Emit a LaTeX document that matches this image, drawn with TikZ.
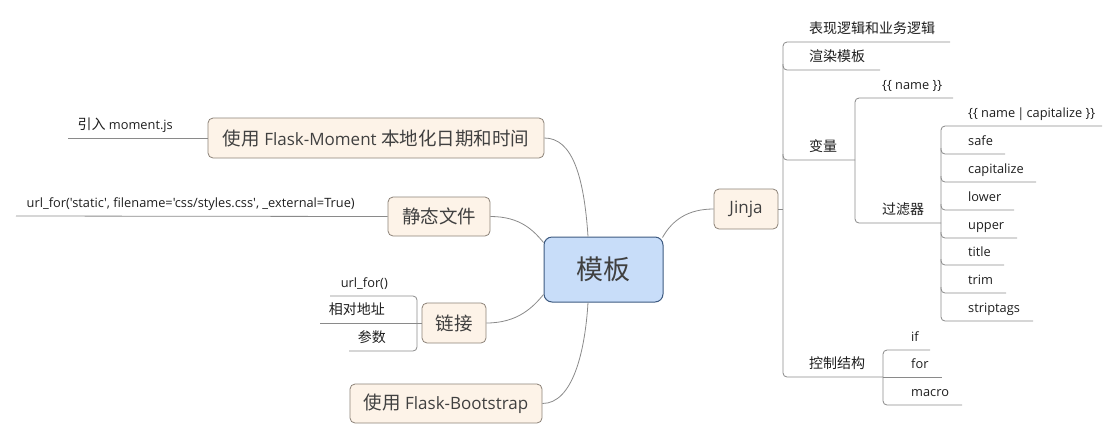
\documentclass[tikz,border=0pt]{standalone}
\usepackage{fontspec}
\setmainfont{Open Sans}[Ligatures=TeXOff]
\newfontfamily\cjkfont{Noto Sans CJK SC}
\newcommand\zhs[1]{{\cjkfont\fontsize{14}{16}\selectfont #1}}
\newcommand\zhb[1]{{\cjkfont\fontsize{18.5}{20}\selectfont #1}}
\definecolor{boxfill}{HTML}{FDF3E8}
\definecolor{boxline}{HTML}{8C8278}
\definecolor{rootfill}{HTML}{C8DDF9}
\definecolor{rootline}{HTML}{3D5A80}
\definecolor{linec}{HTML}{8A8A8A}
\definecolor{boxtxt}{HTML}{404040}
\definecolor{lbltxt}{HTML}{1E1E1E}
\begin{document}
\begin{tikzpicture}[x=1pt,y=-1pt,
  topic/.style={draw=boxline, fill=boxfill, rounded corners=5pt, line width=0.8pt, inner sep=0pt, text=boxtxt, font=\fontsize{17}{20}\selectfont},
  rootbox/.style={draw=rootline, fill=rootfill, rounded corners=8pt, line width=1pt, inner sep=0pt, text=boxtxt, font=\cjkfont\fontsize{27}{30}\selectfont},
  conn/.style={draw=linec, line width=0.8pt},
  tline/.style={draw=linec, line width=0.8pt, rounded corners=4pt},
  rl/.style={anchor=base west, inner sep=0pt, font=\fontsize{12.8}{15}\selectfont, text=lbltxt},
  ll/.style={anchor=base east, inner sep=0pt, font=\fontsize{12.8}{15}\selectfont, text=lbltxt},
]
\useasboundingbox (0,0) rectangle (1118,440);

% main nodes
\node[rootbox, minimum width=119pt, minimum height=65pt] (root) at (603.5,269.5) {模板};
\node[topic, minimum width=336pt, minimum height=40pt] (moment) at (376,138) {\zhb{使用} Flask-Moment \zhb{本地化日期和时间}};
\node[topic, minimum width=102pt, minimum height=39pt] (static) at (439,216.5) {\zhb{静态文件}};
\node[topic, minimum width=64pt, minimum height=40pt] (link) at (454,323) {\zhb{链接}};
\node[topic, minimum width=192pt, minimum height=39pt] (boot) at (446,403.5) {\zhb{使用} Flask-Bootstrap};
\node[topic, minimum width=64pt, minimum height=40pt] (jinja) at (746,209) {Jinja};

% curved connectors
\draw[conn] (moment.east) .. controls +(28,0) and +(-4,-60) .. ([xshift=-15.5pt]root.north);
\draw[conn] (static.east) .. controls +(30,0) and +(-10,-12) .. ([yshift=27pt]root.west);
\draw[conn] (link.east) .. controls +(32,0) and +(-10,12) .. ([yshift=-25pt]root.west);
\draw[conn] (boot.east) .. controls +(30,0) and +(-3,50) .. ([xshift=-15.5pt]root.south);
\draw[conn] ([xshift=-1pt,yshift=-1pt]root.north east) .. controls +(10,-18) and +(-25,0) .. (jinja.west);

% left: moment child
\coordinate (m1) at (68,138);
\draw[conn] (m1) -- (moment.west);
\node[ll] (lm1) at (173,129) {\zhs{引入} moment.js};

% left: static child
\coordinate (s1) at (16,216);
\draw[conn] (s1) -- (static.west);
\node[ll] (ls1) at (355,207) {url\_for('static', filename='css/styles.css', \_external=True)};

% left: link children
\draw[tline] (330,296) -- (417,296) -- (417,351) -- (349,351);
\draw[conn] (320,323) -- (link.west);
\node[ll] (lk1) at (388,287) {url\_for()};
\node[ll] (lk2) at (385,314) {\zhs{相对地址}};
\node[ll] (lk3) at (386,342) {\zhs{参数}};

% right: jinja tree
\coordinate (j0) at (783,209);
\draw[conn] (jinja.east) -- (j0);
\draw[tline] (950,42) -- (783,42) -- (783,377) -- (883,377);
\draw[tline] (783,64) -- (783,70) -- (880,70);
\draw[tline] (783,154) -- (783,160) -- (855,160);
\node[rl] (r1) at (809,33) {\zhs{表现逻辑和业务逻辑}};
\node[rl] (r2) at (809,61) {\zhs{渲染模板}};
\node[rl] (r3) at (809,151) {\zhs{变量}};
\node[rl] (r4) at (809,368) {\zhs{控制结构}};

% variable subtree
\draw[tline] (953,98) -- (855,98) -- (855,223) -- (941,223);
\node[rl] (v1) at (882,89) {\{\{ name \}\}};
\node[rl] (v2) at (882,214) {\zhs{过滤器}};

% filter subtree
\draw[tline] (1102,126) -- (941,126) -- (941,321) -- (1033,321);
\draw[tline] (941,148) -- (941,154) -- (1005,154);
\draw[tline] (941,176) -- (941,182) -- (1036,182);
\draw[tline] (941,204) -- (941,210) -- (1014,210);
\draw[tline] (941,232) -- (941,238) -- (1017,238);
\draw[tline] (941,259) -- (941,265) -- (1004,265);
\draw[tline] (941,287) -- (941,293) -- (1006,293);
\node[rl] (f0) at (968,117) {\{\{ name\,|\,capitalize \}\}};
\node[rl] (f1) at (968,145) {safe};
\node[rl] (f2) at (968,173) {capitalize};
\node[rl] (f3) at (968,201) {lower};
\node[rl] (f4) at (968,229) {upper};
\node[rl] (f5) at (968,256) {title};
\node[rl] (f6) at (968,284) {trim};
\node[rl] (f7) at (968,312) {striptags};

% control subtree
\draw[tline] (930,350) -- (883,350) -- (883,405) -- (962,405);
\draw[conn] (883,377) -- (942,377);
\node[rl] (c1) at (911,341) {if};
\node[rl] (c2) at (911,368) {for};
\node[rl] (c3) at (911,396) {macro};
\end{tikzpicture}
\end{document}
